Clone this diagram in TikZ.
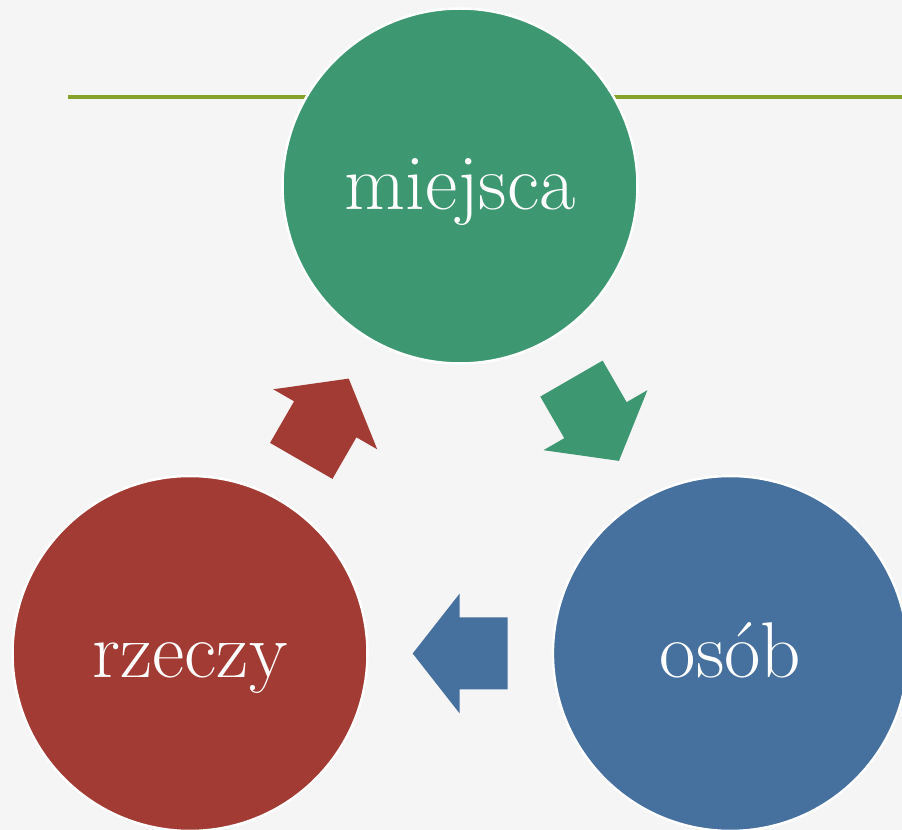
\documentclass[tikz,border=0pt]{standalone}
\usetikzlibrary{calc}

\definecolor{paper}{HTML}{F5F5F5}
\definecolor{olive}{HTML}{87A22A}
\definecolor{ringgreen}{HTML}{3D9771}
\definecolor{ringred}{HTML}{A23B33}
\definecolor{ringblue}{HTML}{46709D}

\tikzset{
    ring/.style={circle, minimum size=7.1cm, inner sep=0pt, draw=white, line width=1.4pt,
        text=white, font=\fontsize{45}{54}\selectfont, text height=0.96cm, text depth=0cm},
}

\begin{document}
\begin{tikzpicture}[x=0.02cm, y=0.02cm]
    \useasboundingbox (0,0) rectangle (902,830);
    \clip (0,0) rectangle (902,830);
    \fill[paper] (0,0) rectangle (902,830);

    % title rule
    \draw[olive, line width=2pt] (68,733) -- (902,733);

    % cycle
    \node[ring, fill=ringgreen] (miejsca) at (460,644) {miejsca};
    \node[ring, fill=ringblue]  (osob)    at (730.4,176.5) {osób};
    \node[ring, fill=ringred]   (rzeczy)  at (190,176.5) {rzeczy};

    % block arrows between the circles
    \foreach \from/\to/\col/\angle in {miejsca/osob/ringgreen/-60, osob/rzeczy/ringblue/180, rzeczy/miejsca/ringred/60} {
        \fill[\col, shift={($(\from)!0.5!(\to)$)}, rotate=\angle]
            (-47.5,36) -- (0.5,36) -- (0.5,60) -- (47.5,0) -- (0.5,-60) -- (0.5,-36) -- (-47.5,-36) -- cycle;
    }
\end{tikzpicture}
\end{document}
